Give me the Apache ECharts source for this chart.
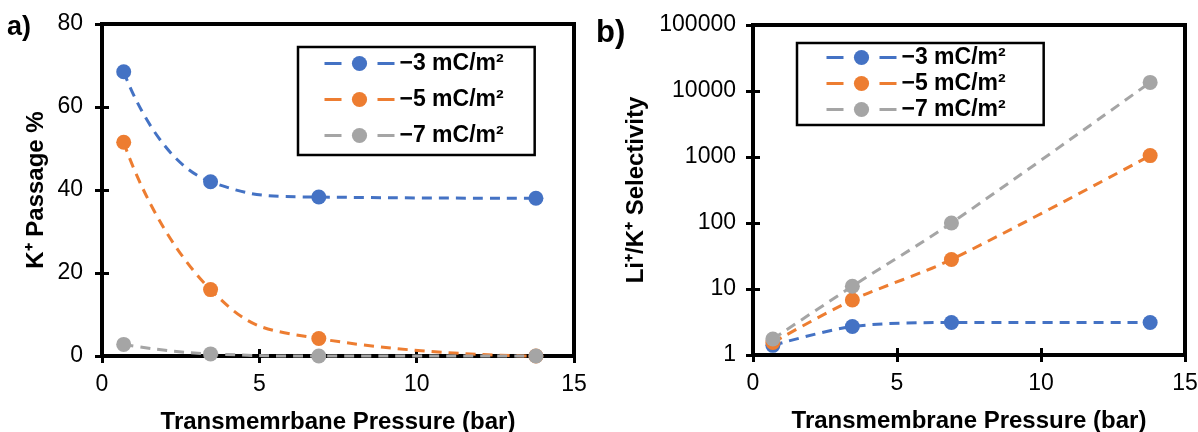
<!DOCTYPE html>
<html>
<head>
<meta charset="utf-8">
<script src="https://cdn.jsdelivr.net/npm/echarts@6/dist/echarts.min.js"></script>
<style>
  html, body { margin: 0; padding: 0; background: #fff; }
  #chart { width: 1198px; height: 432px; }
</style>
</head>
<body>
<div id="chart"></div>
<script>
// pressures in bar (10, 50, 100, 200 psi)
const pressure = [0.69, 3.45, 6.89, 13.79];
const seriesNames = ["\u22123 mC/m\u00b2", "\u22125 mC/m\u00b2", "\u22127 mC/m\u00b2"];
const colors = ["#4472C4", "#ED7D31", "#A5A5A5"];

// panel a) K+ passage %
const passageM3 = [68.5, 42.0, 38.3, 38.0];
const passageM5 = [51.5, 16.0, 4.2, 0.0];
const passageM7 = [2.8, 0.5, 0.0, 0.0];

// panel b) Li+/K+ selectivity
const selectM3 = [1.4, 2.7, 3.1, 3.1];
const selectM5 = [1.55, 6.8, 28, 1050];
const selectM7 = [1.75, 11, 100, 13500];

const FONT = "Liberation Sans, Arial, sans-serif";
const titleStyle = { fontFamily: FONT, fontSize: 24, fontWeight: "bold", color: "#000" };
const tickStyle = { lineStyle: { color: "#000", width: 3 } };

const pairs = (ys) => pressure.map((x, i) => [x, ys[i]]);

const makeSeries = (name, ys, idx, color, smooth) => ({
  name: name,
  type: "line",
  xAxisIndex: idx,
  yAxisIndex: idx,
  data: pairs(ys),
  smooth: smooth,
  clip: false,
  symbol: "circle",
  symbolSize: 15,
  itemStyle: { color: color },
  lineStyle: { color: color, width: 3, type: [10, 7] },
  z: 3,
});

const xAxisCfg = (idx, title) => ({
  type: "value",
  gridIndex: idx,
  position: "bottom",
  min: 0,
  max: 15,
  interval: 5,
  name: title,
  nameLocation: "middle",
  nameGap: 54,
  nameTextStyle: titleStyle,
  axisLine: { show: true, lineStyle: { color: "#000", width: 4 } },
  axisTick: { show: true, length: 7, ...tickStyle },
  axisLabel: { fontFamily: FONT, fontSize: 23, color: "#000", margin: 17 },
  splitLine: { show: false },
});

// second copy of an axis that only draws the inner half of the crossing ticks
const innerTicks = (base) => ({
  ...base,
  name: "",
  axisLine: { show: false },
  axisLabel: { show: false },
  axisTick: { show: true, inside: true, length: 7, ...tickStyle },
  splitLine: { show: false },
});

const legendCfg = (left, top, padding, itemGap) => ({
  data: seriesNames,
  orient: "vertical",
  left: left,
  top: top,
  padding: padding,
  itemGap: itemGap,
  itemWidth: 70,
  itemHeight: 19,
  selectedMode: false,
  borderColor: "#000",
  borderWidth: 2.5,
  backgroundColor: "#fff",
  lineStyle: { width: 3, type: [17, 36] },
  textStyle: { fontFamily: FONT, fontSize: 23, fontWeight: "bold", color: "#000" },
});

const xA = xAxisCfg(0, "Transmemrbane Pressure (bar)");
const xB = xAxisCfg(1, "Transmembrane Pressure (bar)");

const yA = {
  type: "value",
  gridIndex: 0,
  position: "left",
  min: 0,
  max: 80,
  interval: 20,
  name: "K\u207a Passage %",
  nameLocation: "middle",
  nameGap: 54,
  nameTextStyle: titleStyle,
  axisLine: { show: true, lineStyle: { color: "#000", width: 4 } },
  axisTick: { show: true, length: 7, ...tickStyle },
  axisLabel: { fontFamily: FONT, fontSize: 23, color: "#000", margin: 19 },
  splitLine: { show: false },
};

const yB = {
  type: "log",
  gridIndex: 1,
  position: "left",
  logBase: 10,
  min: 1,
  max: 100000,
  name: "Li\u207a/K\u207a Selectivity",
  nameLocation: "middle",
  nameGap: 105,
  nameTextStyle: titleStyle,
  axisLine: { show: true, lineStyle: { color: "#000", width: 4 } },
  axisTick: { show: true, length: 7, ...tickStyle },
  axisLabel: { fontFamily: FONT, fontSize: 23, color: "#000", margin: 17, formatter: (v) => String(Math.round(v)) },
  minorTick: { show: false },
  splitLine: { show: false },
};

const option = {
  animation: false,
  textStyle: { fontFamily: FONT },
  graphic: [
    { type: "text", left: 7, top: 14, style: { text: "a)", font: "bold 27px " + FONT, fill: "#000" } },
    { type: "text", left: 596, top: 18, style: { text: "b)", font: "bold 31px " + FONT, fill: "#000" } },
  ],
  grid: [
    { left: 102, top: 24, width: 472, height: 332, outerBoundsMode: "none", show: true, borderColor: "#000", borderWidth: 4, backgroundColor: "#fff" },
    { left: 753, top: 25, width: 432, height: 330, outerBoundsMode: "none", show: true, borderColor: "#000", borderWidth: 4, backgroundColor: "#fff" },
  ],
  legend: [
    legendCfg(298, 47, [5, 31, 8, 25], 13),
    legendCfg(797, 43, [3, 38, 4, 28], 3),
  ],
  xAxis: [xA, xB, innerTicks(xA), innerTicks(xB)],
  yAxis: [yA, yB, innerTicks(yA), innerTicks(yB)],
  series: [
    makeSeries(seriesNames[0], passageM3, 0, colors[0], 0.5),
    makeSeries(seriesNames[1], passageM5, 0, colors[1], 0.5),
    makeSeries(seriesNames[2], passageM7, 0, colors[2], 0.5),
    makeSeries(seriesNames[0], selectM3, 1, colors[0], 0.3),
    makeSeries(seriesNames[1], selectM5, 1, colors[1], 0.3),
    makeSeries(seriesNames[2], selectM7, 1, colors[2], 0.3),
  ],
};

const chart = echarts.init(document.getElementById("chart"), null, { renderer: "canvas" });
chart.setOption(option);
window.addEventListener("resize", () => chart.resize());
</script>
</body>
</html>
